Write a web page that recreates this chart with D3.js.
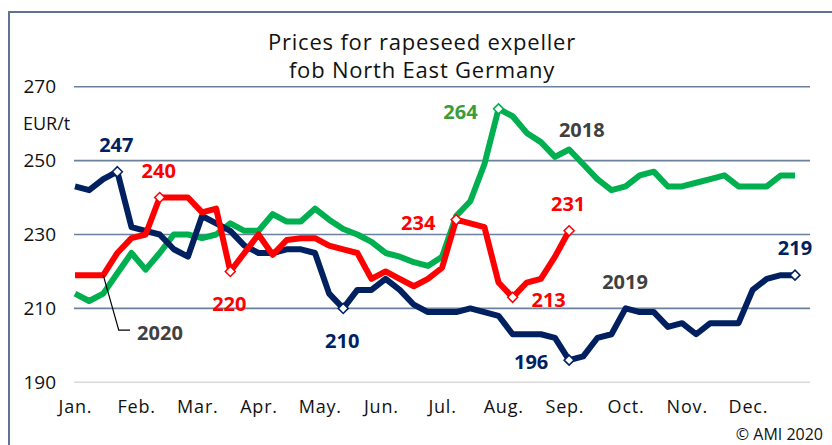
<!DOCTYPE html>
<html>
<head>
<meta charset="utf-8">
<script src="https://cdn.jsdelivr.net/npm/d3@7"></script>
<style>
  html, body { margin: 0; padding: 0; background: #fff; }
  text { font-family: "Open Sans", "Liberation Sans", sans-serif; }
</style>
</head>
<body>
<div id="chart"></div>
<script>
// weekly prices, EUR/t
const months = ["Jan.", "Feb.", "Mar.", "Apr.", "May.", "Jun.", "Jul.", "Aug.", "Sep.", "Oct.", "Nov.", "Dec."];
const yTicks = [190, 210, 230, 250, 270];

const prices2018 = [214, 212, 214, 219.5, 225, 220.5, 225, 230, 230, 229,
    230, 233, 231, 231, 235.5, 233.5, 233.5, 237, 234, 231.5,
    230, 228, 225, 224, 222.5, 221.5, 224, 235, 239, 249,
    264, 262, 257.5, 255, 251, 253, 249, 245, 242, 243,
    246, 247, 243, 243, 244, 245, 246, 243, 243, 243,
    246, 246];
const prices2019 = [243, 242, 245, 247, 232, 231, 230, 226, 224, 235,
    233, 231, 227, 225, 225, 226, 226, 225, 214, 210,
    215, 215, 218, 215, 211, 209, 209, 209, 210, 209,
    208, 203, 203, 203, 202, 196, 197, 202, 203, 210,
    209, 209, 205, 206, 203, 206, 206, 206, 215, 218,
    219, 219];
const prices2020 = [219, 219, 219, 225, 229, 230, 240, 240, 240, 236,
    237, 220, 225, 230, 224.5, 228.5, 229, 229, 227, 226,
    225, 218, 220, 218, 216, 218, 221, 234, 233, 232,
    217, 213, 217, 218, 224, 231];

// weeks with a marked value
const marked2018 = [30];
const marked2019 = [3, 19, 35, 51];
const marked2020 = [6, 11, 27, 31, 35];

const width = 832;
const height = 445;

const svg = d3.select("#chart")
    .append("svg")
    .attr("width", width)
    .attr("height", height);

svg.append("rect")
    .attr("width", width)
    .attr("height", height)
    .attr("fill", "#fff");

// frame
svg.append("path")
    .attr("d", `M9,${height} V12 H${width}`)
    .attr("fill", "none")
    .attr("stroke", "#5f7391")
    .attr("stroke-width", 2);

const x = d3.scaleLinear().domain([0, 51]).range([75, 795]);
const y = d3.scaleLinear().domain([190, 270]).range([382.3, 86.7]);

// TITLE
svg.append("text")
    .attr("x", 422).attr("y", 50)
    .attr("text-anchor", "middle")
    .attr("font-size", 22)
    .attr("letter-spacing", 0.8)
    .attr("fill", "#111")
    .text("Prices for rapeseed expeller");
svg.append("text")
    .attr("x", 422).attr("y", 78)
    .attr("text-anchor", "middle")
    .attr("font-size", 22)
    .attr("letter-spacing", 0.8)
    .attr("fill", "#111")
    .text("fob North East Germany");

// GRID
svg.selectAll("line.grid")
    .data(yTicks)
    .enter()
    .append("line")
    .attr("class", "grid")
    .attr("x1", 74).attr("x2", 810)
    .attr("y1", d => y(d)).attr("y2", d => y(d))
    .attr("stroke", d => d === 190 ? "#d9d9d9" : "#6a809c")
    .attr("stroke-width", 1.6);

// Y AXIS
const yAxis = d3.axisLeft(y).tickValues(yTicks).tickSize(0).tickPadding(0);
const yg = svg.append("g")
    .attr("transform", "translate(56,0)")
    .call(yAxis);
yg.select(".domain").remove();
yg.selectAll("text")
    .attr("font-size", 19)
    .attr("fill", "#111")
    .attr("font-family", "'Open Sans', sans-serif");

svg.append("text")
    .attr("x", 23).attr("y", 130)
    .attr("font-size", 18)
    .attr("fill", "#111")
    .text("EUR/t");

// X AXIS (month starts in weeks)
const xAxis = d3.axisBottom(x)
    .tickValues(months.map((m, i) => i * 52 / 12))
    .tickFormat((d, i) => months[i])
    .tickSize(0).tickPadding(0);
const xg = svg.append("g")
    .attr("transform", "translate(0,400)")
    .call(xAxis);
xg.select(".domain").remove();
xg.selectAll("text")
    .attr("font-size", 18)
    .attr("fill", "#111")
    .attr("dy", "0.72em")
    .attr("letter-spacing", 0.8)
    .attr("font-family", "'Open Sans', sans-serif");

// LINES
const series = [
    { name: "2018", values: prices2018, marked: marked2018, color: "#00b050", labelColor: "#3a9c3a" },
    { name: "2019", values: prices2019, marked: marked2019, color: "#002060", labelColor: "#002060" },
    { name: "2020", values: prices2020, marked: marked2020, color: "#ff0000", labelColor: "#ff0000" }
];

const line = d3.line()
    .x((d, i) => x(i))
    .y(d => y(d));

svg.selectAll("path.series")
    .data(series)
    .enter()
    .append("path")
    .attr("class", "series")
    .attr("d", d => line(d.values))
    .attr("fill", "none")
    .attr("stroke", d => d.color)
    .attr("stroke-width", 6)
    .attr("stroke-linejoin", "round");

// MARKERS + VALUE LABELS
// label offset from marker, per series and week
const labelOffset = {
    "2018-30": [-38, 10],
    "2019-3": [-1, -20], "2019-19": [-1, 40], "2019-35": [-38, 9], "2019-51": [0, -20],
    "2020-6": [-1, -20], "2020-11": [-1, 40], "2020-27": [-38, 10], "2020-31": [36, 10], "2020-35": [-1, -20]
};

series.forEach(s => {
    const pts = s.marked.map(w => ({ w, v: s.values[w] }));

    svg.selectAll(null)
        .data(pts)
        .enter()
        .append("path")
        .attr("d", d3.symbol(d3.symbolDiamond2, 64))
        .attr("transform", d => `translate(${x(d.w)},${y(d.v)})`)
        .attr("fill", "#fff")
        .attr("stroke", s.color)
        .attr("stroke-width", 1.5);

    svg.selectAll(null)
        .data(pts)
        .enter()
        .append("text")
        .attr("x", d => x(d.w) + labelOffset[s.name + "-" + d.w][0])
        .attr("y", d => y(d.v) + labelOffset[s.name + "-" + d.w][1])
        .attr("text-anchor", "middle")
        .attr("font-size", 20)
        .attr("font-weight", "bold")
        .attr("fill", s.labelColor)
        .text(d => d.v);
});

// SERIES NAMES
const names = [
    { text: "2018", w: 35.9, v: 256.4 },
    { text: "2019", w: 38.96, v: 215.3 },
    { text: "2020", w: 6.02, v: 201.4 }
];
svg.selectAll("text.name")
    .data(names)
    .enter()
    .append("text")
    .attr("class", "name")
    .attr("x", d => x(d.w))
    .attr("y", d => y(d.v))
    .attr("text-anchor", "middle")
    .attr("font-size", 20)
    .attr("font-weight", "bold")
    .attr("fill", "#404040")
    .text(d => d.text);

// leader for 2020
svg.append("path")
    .attr("d", `M${x(2)},${y(219)} L${x(3.1)},${y(204.1)} H${x(3.9)}`)
    .attr("fill", "none")
    .attr("stroke", "#000")
    .attr("stroke-width", 1.2);

// SOURCE
svg.append("text")
    .attr("x", 823).attr("y", 440)
    .attr("text-anchor", "end")
    .attr("font-size", 16)
    .attr("fill", "#111")
    .text("© AMI 2020");
</script>
</body>
</html>
